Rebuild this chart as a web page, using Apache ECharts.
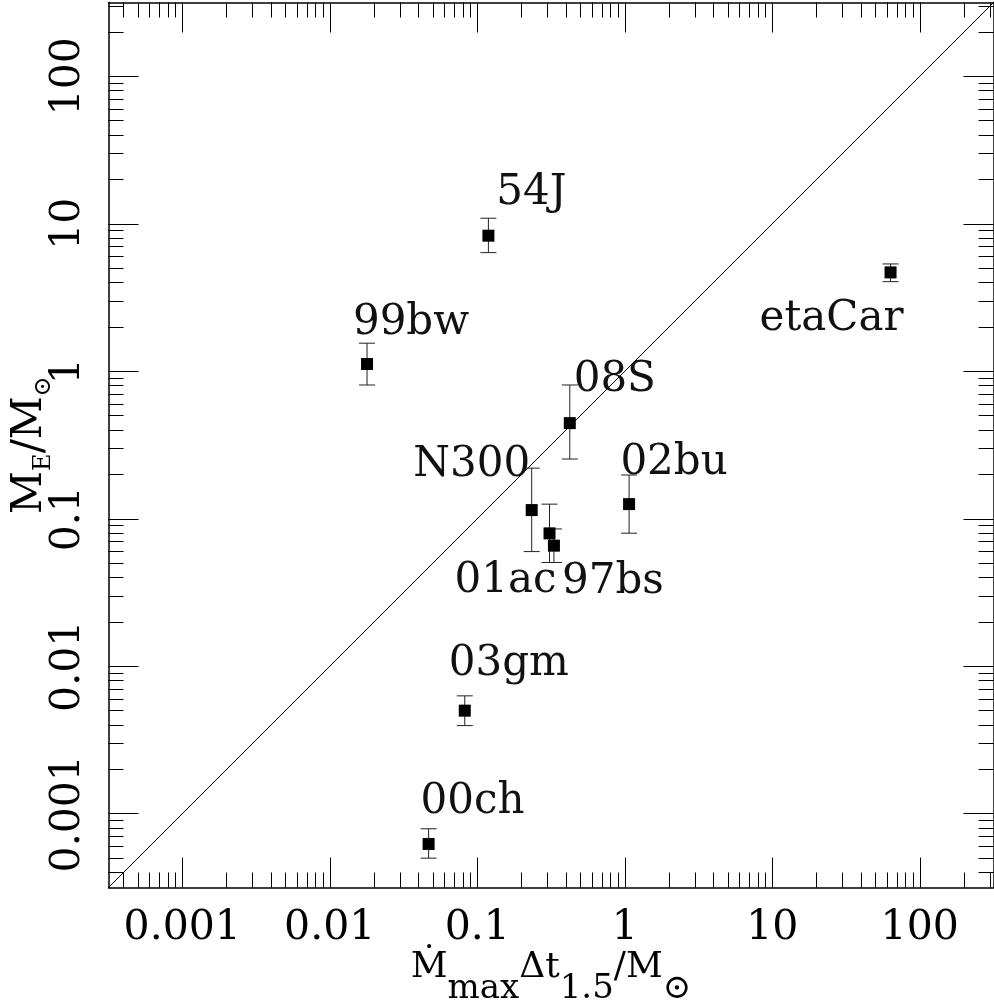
<!DOCTYPE html>
<html>
<head>
<meta charset="utf-8">
<script src="https://cdn.jsdelivr.net/npm/echarts@6/dist/echarts.min.js"></script>
<style>
  html, body { margin: 0; padding: 0; background: #fff; }
  #chart { width: 994px; height: 1004px; }
</style>
</head>
<body>
<div id="chart"></div>
<script>
  // objects and their values
  const names = ['54J', '99bw', 'etaCar', '08S', 'N300', '01ac', '97bs', '02bu', '03gm', '00ch'];
  const mdotDt = [0.119, 0.0179, 63.4, 0.424, 0.234, 0.309, 0.331, 1.07, 0.0823, 0.0468];
  const mEj    = [8.30, 1.12, 4.68, 0.445, 0.1145, 0.0796, 0.0657, 0.1257, 0.0050, 0.000624];
  const mEjLo  = [6.37, 0.807, 4.05, 0.254, 0.0599, 0.0505, 0.0505, 0.0798, 0.00396, 0.000500];
  const mEjHi  = [10.9, 1.55, 5.34, 0.807, 0.2204, 0.1256, 0.0853, 0.198, 0.0063, 0.000791];

  const majorTicks = [0.001, 0.01, 0.1, 1, 10, 100];
  const minorTicks = [];
  for (let e = -4; e <= 2; e++) {
    for (let m = 2; m <= 9; m++) minorTicks.push(Number((m * Math.pow(10, e)).toPrecision(3)));
  }

  // where each name sits relative to its square, in pixels
  const labelOffsets = {
    '54J': [43, -43], '99bw': [44, -41], 'etaCar': [-59, 47], '08S': [45, -43],
    'N300': [-60, -45], '01ac': [-44, 48], '97bs': [59, 36], '02bu': [45, -41],
    '03gm': [44, -47], '00ch': [44, -42]
  };

  const lo = Math.pow(10, -3.5), hi = Math.pow(10, 2.5);
  const font = 'DejaVu Serif';

  function logAxis(position, ticks, len, main) {
    return {
      type: 'log', logBase: 10, min: lo, max: hi, position: position,
      nameMoveOverlap: false,
      axisLine: { show: main, onZero: false, lineStyle: { color: '#000', width: 1.5 } },
      axisTick: { show: true, inside: true, length: len, customValues: ticks,
                  lineStyle: { color: '#000', width: 1 } },
      axisLabel: { show: false },
      splitLine: { show: false },
      minorTick: { show: false }
    };
  }

  const xMain = logAxis('bottom', majorTicks, 30, true);
  xMain.axisLabel = {
    show: true, customValues: majorTicks, margin: 20,
    fontFamily: font, fontSize: 41, color: '#000',
    formatter: v => String(v)
  };
  xMain.name = '{m|Ṁ}{s|max}{m|Δt}{s|1.5}{m|/M}{s|⊙}';
  xMain.nameLocation = 'middle';
  xMain.nameGap = 62;
  xMain.nameTextStyle = {
    fontFamily: font, color: '#000',
    rich: {
      m: { fontFamily: font, fontSize: 36, lineHeight: 40, verticalAlign: 'top', color: '#000' },
      s: { fontFamily: font, fontSize: 34, padding: [23, 0, 0, 0], verticalAlign: 'top', color: '#000' }
    }
  };

  const yMain = logAxis('left', majorTicks, 30, true);
  yMain.axisLabel = {
    show: true, customValues: majorTicks, margin: 20, rotate: 90,
    fontFamily: font, fontSize: 41, color: '#000',
    formatter: v => String(v)
  };
  yMain.name = '{m|M}{s|E}{m|/M}{s|⊙}';
  yMain.nameLocation = 'middle';
  yMain.nameGap = 53;
  yMain.nameTextStyle = {
    fontFamily: font, color: '#000',
    rich: {
      m: { fontFamily: font, fontSize: 42, lineHeight: 44, verticalAlign: 'top', color: '#000' },
      s: { fontFamily: font, fontSize: 24, padding: [22, 0, 0, 0], verticalAlign: 'top', color: '#000' }
    }
  };

  function renderErrorBar(params, api) {
    const x = api.value(0);
    const top = api.coord([x, api.value(2)]);
    const bot = api.coord([x, api.value(1)]);
    const w = 8;
    const style = { stroke: '#222', lineWidth: 1 };
    return {
      type: 'group',
      children: [
        { type: 'line', shape: { x1: top[0], y1: top[1], x2: bot[0], y2: bot[1] }, style: style },
        { type: 'line', shape: { x1: top[0] - w, y1: top[1], x2: top[0] + w, y2: top[1] }, style: style },
        { type: 'line', shape: { x1: bot[0] - w, y1: bot[1], x2: bot[0] + w, y2: bot[1] }, style: style }
      ]
    };
  }

  const chart = echarts.init(document.getElementById('chart'));
  chart.setOption({
    animation: false,
    backgroundColor: '#fff',
    grid: { left: 108.5, top: 2.5, width: 885, height: 885, containLabel: false, outerBoundsMode: 'none' },
    xAxis: [
      xMain,
      logAxis('bottom', minorTicks, 15, false),
      logAxis('top', majorTicks, 30, true),
      logAxis('top', minorTicks, 15, false)
    ],
    yAxis: [
      yMain,
      logAxis('left', minorTicks, 15, false),
      logAxis('right', majorTicks, 30, true),
      logAxis('right', minorTicks, 15, false)
    ],
    series: [
      {
        type: 'line', data: [[lo, lo], [hi, hi]], showSymbol: false, silent: true,
        lineStyle: { color: '#000', width: 1 }, z: 1
      },
      {
        type: 'custom', renderItem: renderErrorBar, z: 2,
        data: names.map((n, i) => [mdotDt[i], mEjLo[i], mEjHi[i]]),
        encode: { x: 0, y: [1, 2] }
      },
      {
        type: 'scatter', symbol: 'rect', symbolSize: 12, z: 3,
        itemStyle: { color: '#000', opacity: 1 },
        label: {
          show: true, position: 'inside', formatter: '{b}',
          fontFamily: font, fontSize: 42, color: '#111'
        },
        data: names.map((n, i) => ({
          name: n, value: [mdotDt[i], mEj[i]],
          label: { offset: labelOffsets[n] }
        }))
      }
    ]
  });
</script>
</body>
</html>
